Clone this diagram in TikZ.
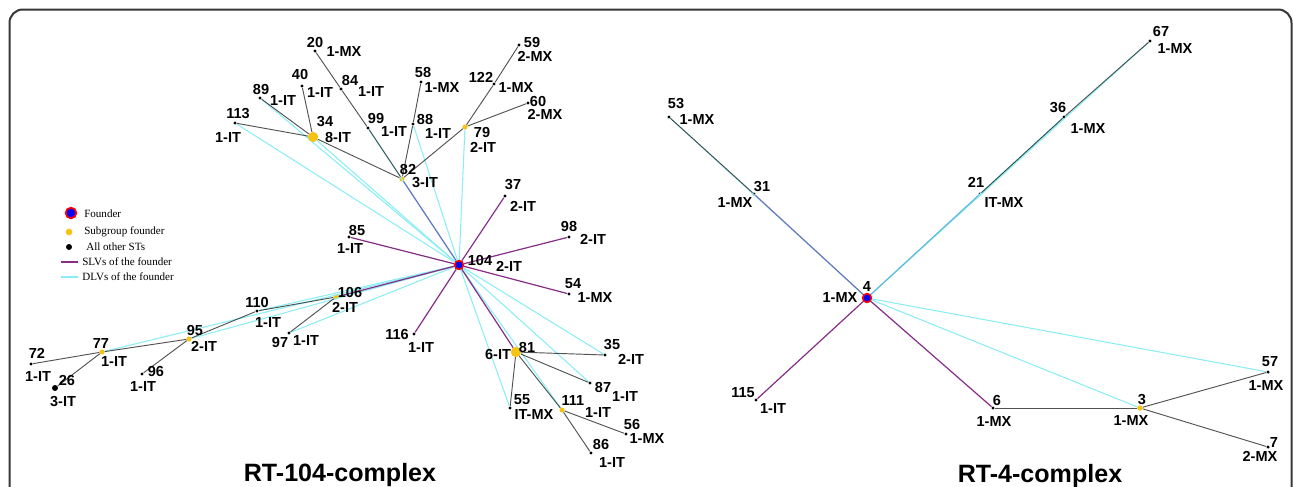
\documentclass[tikz,border=0pt]{standalone}
\usepackage{fontspec}
\setmainfont{Liberation Serif}
\setsansfont{Liberation Sans}
\definecolor{slvc}{RGB}{135,45,135}
\definecolor{slvb}{RGB}{70,40,150}
\definecolor{dlvc}{RGB}{140,238,244}
\definecolor{mstc}{RGB}{25,25,25}
\definecolor{mixc}{RGB}{20,60,160}
\definecolor{subc}{RGB}{245,195,20}
\definecolor{framec}{RGB}{55,55,55}
\begin{document}
\begin{tikzpicture}[x=0.75pt,y=-0.75pt,
  lab/.style={font=\sffamily\bfseries\fontsize{10.9}{12}\selectfont, inner sep=0pt},
  ttl/.style={font=\sffamily\bfseries\fontsize{18.8}{20}\selectfont, inner sep=0pt},
  leg/.style={font=\rmfamily\fontsize{8.3}{10}\selectfont, inner sep=0pt, anchor=west},
  st/.style={circle, fill=black, inner sep=0pt, minimum size=2.6pt},
  bigst/.style={circle, fill=black, inner sep=0pt, minimum size=4.5pt},
  sub/.style={circle, fill=subc, inner sep=0pt, minimum size=3.8pt},
  bigsub/.style={circle, fill=subc, inner sep=0pt, minimum size=7.5pt},
  fnd/.style={circle, draw=red, fill=blue, line width=1.1pt, inner sep=0pt, minimum size=6.5pt},
  mst/.style={draw=mstc, line width=0.7pt, opacity=0.75},
  mix/.style={draw=mixc, line width=0.7pt, opacity=0.35},
  slv/.style={draw=slvc, line width=0.9pt},
  slvo/.style={draw=slvb, line width=0.9pt, opacity=0.6},
  dlv/.style={draw=dlvc, line width=0.8pt},
]
\useasboundingbox[fill=white] (0,0) rectangle (1293,486);
\draw[framec, line width=1.5pt, rounded corners=10pt] (9.5,520) -- (9.5,9.5) -- (1291.5,9.5) -- (1291.5,520);

% ---------------- left: RT-104-complex ----------------
\node[st] (n20) at (315,51) {};
\node[st] (n40) at (302,86) {};
\node[st] (n84) at (341,89) {};
\node[st] (n89) at (260,98) {};
\node[st] (n113) at (235,123) {};
\node[bigsub] (n34) at (313,137) {};
\node[st] (n99) at (368,128) {};
\node[st] (n58) at (421,82) {};
\node[st] (n88) at (413,124) {};
\node[sub] (n82) at (402,179) {};
\node[sub] (n79) at (465,127) {};
\node[st] (n122) at (494,84) {};
\node[st] (n59) at (519,45) {};
\node[st] (n60) at (528,103) {};
\node[st] (n37) at (505,196) {};
\node[st] (n98) at (569,237) {};
\node[st] (n54) at (569,294) {};
\node[st] (n85) at (349,237) {};
\node[st] (n116) at (414,334) {};
\node[bigsub] (n81) at (516,352) {};
\node[st] (n35) at (605,355) {};
\node[st] (n87) at (590,383) {};
\node[st] (n55) at (510,408) {};
\node[sub] (n111) at (562,410) {};
\node[st] (n56) at (626,434) {};
\node[st] (n86) at (591,453) {};
\node[sub] (n106) at (336,297) {};
\node[st] (n110) at (257,311) {};
\node[st] (n97) at (289,333) {};
\node[sub] (n95) at (189,339) {};
\node[st] (n96) at (142,374) {};
\node[sub] (n77) at (102,352) {};
\node[st] (n72) at (31,364) {};
\node[bigst] (n26) at (55,388) {};
\node[fnd] (n104) at (459,265) {};

% DLVs of the founder
\foreach \t in {113,89,34,99,88,79,110,95,77,97,55,111,87,35}
  \draw[dlv] (n104) -- (n\t);
% other links
\foreach \a/\b in {34/113,34/89,34/40,34/82,20/84,84/99,99/82,82/88,88/58,82/79,79/122,122/59,79/60,
  72/77,77/26,77/95,95/96,95/110,110/106,106/97,81/35,81/87,81/55,81/111,111/56,111/86}
  \draw[mst] (n\a) -- (n\b);
% SLVs of the founder
\foreach \t in {37,98,54,85,116,81,106}
  \draw[slv] (n104) -- (n\t);
\draw[slvo] (n104) -- (n82);
\node[fnd] (f104) at (459,265) {};
\node[bigsub] (s34) at (313,137) {};
\node[bigsub] (s81) at (516,352) {};

% labels left
\node[lab] (a104) at (480,260) {104};   \node[lab] (b104) at (509,266) {2-IT};
\node[lab] (a82) at (408,169) {82};     \node[lab] (b82) at (425,183) {3-IT};
\node[lab] (a34) at (325,122) {34};     \node[lab] (b34) at (338,137) {8-IT};
\node[lab] (a113) at (238,114) {113};   \node[lab] (b113) at (228,137) {1-IT};
\node[lab] (a89) at (261,89) {89};      \node[lab] (b89) at (283,100) {1-IT};
\node[lab] (a40) at (300,74) {40};      \node[lab] (b40) at (320,92) {1-IT};
\node[lab] (a20) at (315,42) {20};      \node[lab] (b20) at (344,51) {1-MX};
\node[lab] (a84) at (350,80) {84};      \node[lab] (b84) at (371,91) {1-IT};
\node[lab] (a99) at (376,118) {99};     \node[lab] (b99) at (394,131) {1-IT};
\node[lab] (a58) at (423,72) {58};      \node[lab] (b58) at (442,87) {1-MX};
\node[lab] (a88) at (425,119) {88};     \node[lab] (b88) at (438,133) {1-IT};
\node[lab] (a79) at (482,132) {79};     \node[lab] (b79) at (483,147) {2-IT};
\node[lab] (a122) at (481,77) {122};    \node[lab] (b122) at (516,87) {1-MX};
\node[lab] (a59) at (532,42) {59};      \node[lab] (b59) at (535,56) {2-MX};
\node[lab] (a60) at (538,101) {60};     \node[lab] (b60) at (545,114) {2-MX};
\node[lab] (a37) at (513,185) {37};     \node[lab] (b37) at (523,206) {2-IT};
\node[lab] (a98) at (569,226) {98};     \node[lab] (b98) at (593,239) {2-IT};
\node[lab] (a54) at (573,284) {54};     \node[lab] (b54) at (595,297) {1-MX};
\node[lab] (a85) at (357,230) {85};     \node[lab] (b85) at (350,248) {1-IT};
\node[lab] (a116) at (397,334) {116};   \node[lab] (b116) at (421,347) {1-IT};
\node[lab] (a81) at (527,347) {81};     \node[lab] (b81) at (498,354) {6-IT};
\node[lab] (a35) at (612,345) {35};     \node[lab] (b35) at (631,359) {2-IT};
\node[lab] (a87) at (603,387) {87};     \node[lab] (b87) at (625,396) {1-IT};
\node[lab] (a55) at (522,400) {55};     \node[lab] (b55) at (534,414) {IT-MX};
\node[lab] (a111) at (573,400) {111};   \node[lab] (b111) at (598,412) {1-IT};
\node[lab] (a56) at (632,424) {56};     \node[lab] (b56) at (647,438) {1-MX};
\node[lab] (a86) at (601,444) {86};     \node[lab] (b86) at (612,462) {1-IT};
\node[lab] (a106) at (350,292) {106};   \node[lab] (b106) at (345,307) {2-IT};
\node[lab] (a110) at (257,302) {110};   \node[lab] (b110) at (268,322) {1-IT};
\node[lab] (a97) at (280,342) {97};     \node[lab] (b97) at (306,340) {1-IT};
\node[lab] (a95) at (195,330) {95};     \node[lab] (b95) at (204,346) {2-IT};
\node[lab] (a96) at (156,371) {96};     \node[lab] (b96) at (143,386) {1-IT};
\node[lab] (a77) at (101,343) {77};     \node[lab] (b77) at (114,361) {1-IT};
\node[lab] (a72) at (37,353) {72};      \node[lab] (b72) at (38,376) {1-IT};
\node[lab] (a26) at (67,380) {26};      \node[lab] (b26) at (63,402) {3-IT};
\node[ttl] (t104) at (340,475) {RT-104-complex};

% legend
\node[fnd, minimum size=8pt, line width=1.3pt] (lf) at (71,213) {};
\node[leg] (lft) at (84,214) {Founder};
\node[sub, minimum size=5pt] (ls) at (69,232) {};
\node[leg] (lst) at (84,232) {Subgroup founder};
\node[st, minimum size=4.5pt] (lo) at (69,247) {};
\node[leg] (lot) at (86,247) {All other STs};
\coordinate (lsa) at (61,262); \coordinate (lsb) at (78,262);
\draw[slv] (lsa) -- (lsb);
\node[leg] (lslt) at (82,262) {SLVs of the founder};
\coordinate (lda) at (61,277); \coordinate (ldb) at (78,277);
\draw[dlv, line width=1.2pt] (lda) -- (ldb);
\node[leg] (ldlt) at (82,277) {DLVs of the founder};

% ---------------- right: RT-4-complex ----------------
\node[st] (m53) at (669,117) {};
\node[st] (m31) at (754,194) {};
\node[st] (m21) at (980,194) {};
\node[st] (m36) at (1064,117) {};
\node[st] (m67) at (1150,41) {};
\node[st] (m115) at (756,400) {};
\node[st] (m6) at (993,408) {};
\node[sub] (m3) at (1140,408) {};
\node[st] (m57) at (1268,372) {};
\node[st] (m7) at (1268,447) {};
\node[fnd] (m4) at (867,298) {};

\foreach \t in {53,21,36,67,3,57}
  \draw[dlv] (m4) -- (m\t);
\foreach \a/\b in {53/31,21/36,36/67,6/3,3/57,3/7}
  \draw[mst] (m\a) -- (m\b);
\draw[mix] (m4) -- (m21);
\draw[slvo] (m4) -- (m31);
\foreach \t in {115,6}
  \draw[slv] (m4) -- (m\t);
\node[fnd] (f4) at (867,298) {};
\node[sub] (s3) at (1140,408) {};

\node[lab] (c4) at (867,286) {4};       \node[lab] (d4) at (840,297) {1-MX};
\node[lab] (c53) at (676,104) {53};     \node[lab] (d53) at (697,119) {1-MX};
\node[lab] (c31) at (762,187) {31};     \node[lab] (d31) at (735,202) {1-MX};
\node[lab] (c21) at (976,182) {21};     \node[lab] (d21) at (1004,202) {IT-MX};
\node[lab] (c36) at (1058,108) {36};    \node[lab] (d36) at (1088,128) {1-MX};
\node[lab] (c67) at (1161,31) {67};     \node[lab] (d67) at (1175,48) {1-MX};
\node[lab] (c115) at (743,393) {115};   \node[lab] (d115) at (773,408) {1-IT};
\node[lab] (c6) at (997,400) {6};       \node[lab] (d6) at (994,421) {1-MX};
\node[lab] (c3) at (1142,400) {3};      \node[lab] (d3) at (1131,420) {1-MX};
\node[lab] (c57) at (1270,362) {57};    \node[lab] (d57) at (1266,385) {1-MX};
\node[lab] (c7) at (1274,442) {7};      \node[lab] (d7) at (1260,456) {2-MX};
\node[ttl] (t4) at (1040,476) {RT-4-complex};
\end{tikzpicture}
\end{document}
